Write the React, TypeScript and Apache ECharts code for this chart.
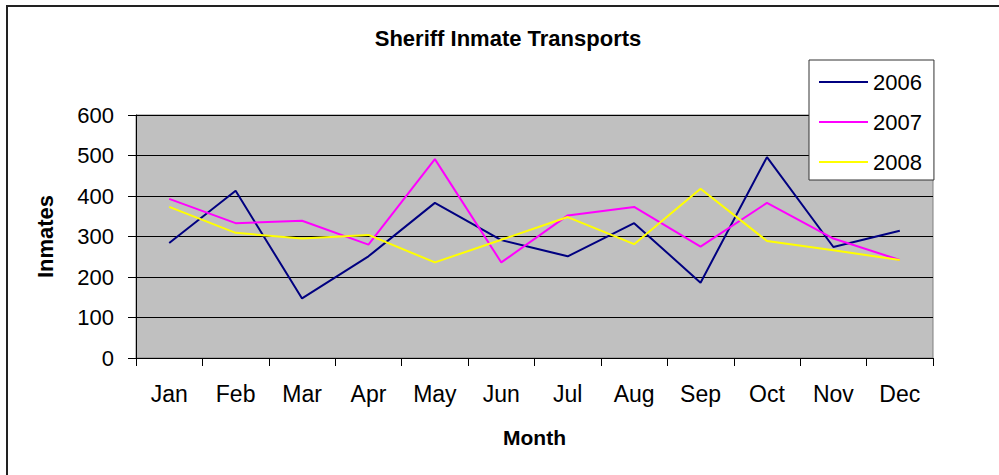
import React, { useEffect, useRef } from "react";
import * as echarts from "echarts";

const months = ["Jan", "Feb", "Mar", "Apr", "May", "Jun", "Jul", "Aug", "Sep", "Oct", "Nov", "Dec"];
const s2006 = [284, 413, 147, 251, 383, 291, 251, 333, 186, 496, 274, 314];
const s2007 = [393, 333, 339, 280, 491, 236, 352, 373, 275, 383, 295, 242];
const s2008 = [373, 309, 295, 304, 236, 292, 348, 281, 418, 289, 266, 242];
const yTicks = { min: 0, max: 600, interval: 100 };

const FONT = "Arial, 'Liberation Sans', sans-serif";

export default function App() {
  const ref = useRef<HTMLDivElement>(null);
  useEffect(() => {
    if (!ref.current) return;
    const chart = echarts.init(ref.current, null, { renderer: "svg" });
    chart.setOption({
      animation: false,
      backgroundColor: "#ffffff",
      textStyle: { fontFamily: FONT, color: "#000" },
      graphic: [
        {
          type: "rect",
          shape: { x: 7, y: 6, width: 1010, height: 490 },
          style: { fill: "none", stroke: "#222", lineWidth: 2 },
          z: -1,
        },
        {
          type: "text",
          x: 508,
          y: 38,
          style: {
            text: "Sheriff Inmate Transports",
            font: "bold 22px " + FONT,
            fill: "#000",
            textAlign: "center",
            textVerticalAlign: "middle",
          },
        },
      ],
      legend: {
        orient: "vertical",
        left: 809,
        top: 60,
        width: 127,
        padding: [10, 12, 6, 10],
        itemWidth: 49,
        itemHeight: 2,
        itemGap: 16,
        icon: "rect",
        backgroundColor: "#fff",
        borderColor: "#333",
        borderWidth: 1,
        textStyle: { fontSize: 22, fontFamily: FONT, color: "#000", lineHeight: 24 },
        data: ["2006", "2007", "2008"],
      },
      grid: {
        left: 136,
        top: 115,
        right: 66,
        bottom: 117,
        show: true,
        backgroundColor: "#C0C0C0",
        borderColor: "#808080",
        borderWidth: 1,
      },
      xAxis: {
        type: "category",
        data: months,
        boundaryGap: true,
        name: "Month",
        nameLocation: "middle",
        nameGap: 69,
        nameTextStyle: { fontSize: 21, fontWeight: "bold", fontFamily: FONT, color: "#000" },
        axisLine: { show: true, lineStyle: { color: "#000", width: 1 } },
        axisTick: { show: true, length: 8, lineStyle: { color: "#000" }, alignWithLabel: false },
        axisLabel: { fontSize: 23, margin: 24, color: "#000", interval: 0, fontFamily: FONT },
        splitLine: { show: false },
      },
      yAxis: {
        type: "value",
        min: yTicks.min,
        max: yTicks.max,
        interval: yTicks.interval,
        name: "Inmates",
        nameLocation: "middle",
        nameRotate: 90,
        nameGap: 80,
        nameTextStyle: { fontSize: 22, fontWeight: "bold", fontFamily: FONT, color: "#000" },
        axisLine: { show: true, lineStyle: { color: "#000", width: 1 } },
        axisTick: { show: true, length: 8, lineStyle: { color: "#000" } },
        axisLabel: { fontSize: 22, margin: 22, color: "#000", fontFamily: FONT },
        splitLine: { show: true, lineStyle: { color: "#000", width: 1 } },
      },
      series: [
        { name: "2006", type: "line", data: s2006, symbol: "none", color: "#000080", lineStyle: { width: 2, color: "#000080" } },
        { name: "2007", type: "line", data: s2007, symbol: "none", color: "#FF00FF", lineStyle: { width: 2, color: "#FF00FF" } },
        { name: "2008", type: "line", data: s2008, symbol: "none", color: "#FFFF00", lineStyle: { width: 2, color: "#FFFF00" } },
      ],
    });
    return () => chart.dispose();
  }, []);
  return (
    <div
      ref={ref}
      style={{ position: "fixed", left: 0, top: 0, width: 999, height: 475 }}
    />
  );
}
